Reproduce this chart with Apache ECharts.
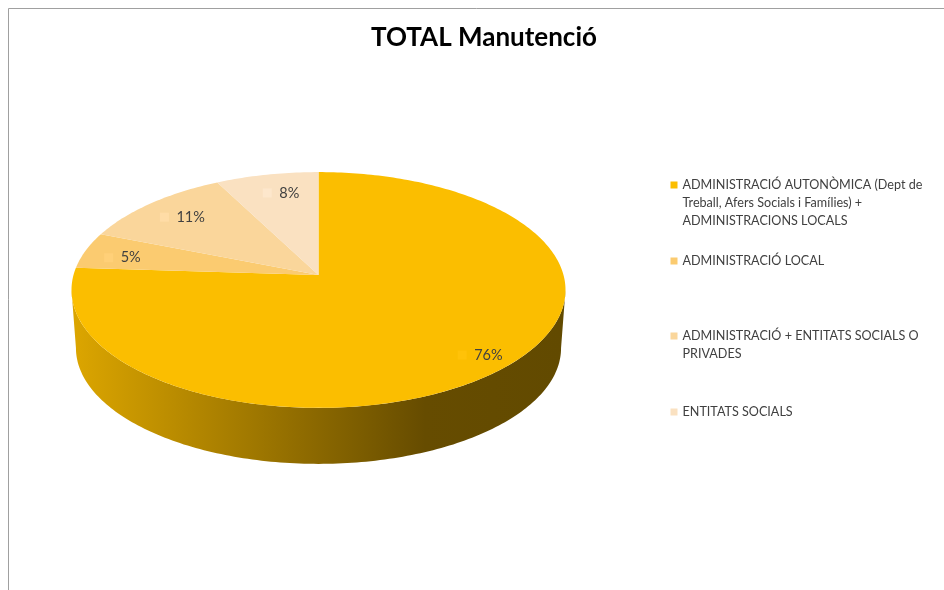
<!DOCTYPE html>
<html>
<head>
<meta charset="utf-8">
<style>html,body{margin:0;padding:0;background:#fff}#c{width:944px;height:590px}</style>
<script src="https://cdn.jsdelivr.net/npm/echarts@6/dist/echarts.min.js"></script>
</head>
<body>
<div id="c"></div>
<script>
var titleText = 'TOTAL Manutenció';
var categories = [
  'ADMINISTRACIÓ AUTONÒMICA (Dept de Treball, Afers Socials i Famílies) + ADMINISTRACIONS LOCALS',
  'ADMINISTRACIÓ LOCAL',
  'ADMINISTRACIÓ + ENTITATS SOCIALS O PRIVADES',
  'ENTITATS SOCIALS'
];
var values = [76, 5, 11.4, 7.6];

// Presentation only
var legendLines = [
  ['ADMINISTRACIÓ AUTONÒMICA (Dept de', 'Treball, Afers Socials i Famílies) +', 'ADMINISTRACIONS LOCALS'],
  ['ADMINISTRACIÓ LOCAL'],
  ['ADMINISTRACIÓ + ENTITATS SOCIALS O', 'PRIVADES'],
  ['ENTITATS SOCIALS']
];
var legendTops = [176, 252, 327, 403];
var colors = ['#FBBE00', '#FBCB70', '#FAD69B', '#FAE1C1'];
var keyColors = ['#FFC208', '#FFD078', '#FFDCA6', '#FDE7CC'];
var labelRadius = [0.86, 0.86, 0.75, 0.8];
var labelShift = [[11, 1], [11, 4], [-2, -3], [11, 0]];
var FONT = 'Lato, Carlito, "Open Sans", sans-serif';

// Perspective projection of the disc
var CX = 318.5, CY = 275, RX = 245, RY = 116, P = 0.127;
var DEPTH_SCALE = 0.982, DEPTH_DY = 58.4;
function project(turn, r, s, dy) {
  var a = turn * 2 * Math.PI, u = r * Math.sin(a), v = r * Math.cos(a), w = 1 + P * v;
  return [CX + s * RX * u / w, CY + dy - s * RY * v / w];
}
var total = values.reduce(function (a, b) { return a + b; }, 0);
var starts = values.map(function (_, i) {
  return values.slice(0, i).reduce(function (a, b) { return a + b; }, 0) / total;
});
var edgeTurn = Math.acos(-P) / (2 * Math.PI);

function arc(a, b, s, dy) {
  var pts = [], n = Math.max(2, Math.ceil(Math.abs(b - a) * 360));
  for (var k = 0; k <= n; k++) pts.push(project(a + (b - a) * k / n, 1, s, dy));
  return pts;
}

function renderSlice(params, api) {
  var i = params.seriesIndex;
  var a = starts[i], b = a + api.value(0) / total;
  var children = [];
  var sa = Math.max(a, edgeTurn), sb = Math.min(b, 1 - edgeTurn);
  if (sb > sa) {
    children.push({
      type: 'polygon', silent: true,
      shape: { points: arc(sa, sb, 1, 0).concat(arc(sb, sa, DEPTH_SCALE, DEPTH_DY)) },
      style: {
        fill: new echarts.graphic.LinearGradient(76, 0, 561, 0, [
          { offset: 0, color: '#DBA500' },
          { offset: 0.72, color: '#664C00' },
          { offset: 1, color: '#624A00' }
        ], true)
      }
    });
  }
  var pts = [project(0, 0, 1, 0)].concat(arc(a, b, 1, 0));
  children.push({
    type: 'polygon', silent: true, z2: 5,
    shape: { points: pts },
    style: { fill: colors[i] }
  });
  var mid = project((a + b) / 2, labelRadius[i], 1, 0);
  var lx = mid[0] + labelShift[i][0], ly = mid[1] + labelShift[i][1];
  var txt = Math.round(api.value(0) / total * 100) + '%';
  var half = (txt.length > 2 ? 28 : 20) / 2 + 6;
  var textX = lx - half + 8;
  children.push({
    type: 'rect', silent: true, z2: 6,
    shape: { x: textX - 16.5, y: ly - 4.5, width: 9, height: 9 },
    style: { fill: keyColors[i] }
  });
  children.push({
    type: 'text', silent: true, z2: 7,
    style: {
      x: textX, y: ly, text: txt, fill: '#404040',
      font: '14.5px ' + FONT, textAlign: 'left', textVerticalAlign: 'middle'
    }
  });
  return { type: 'group', children: children };
}

var series = categories.map(function (name, i) {
  return {
    type: 'custom', name: name, coordinateSystem: 'none',
    data: [{ name: name, value: [values[i]] }],
    itemStyle: { color: colors[i] },
    renderItem: renderSlice, animation: false, silent: true, z: i === 0 ? 2 : 3
  };
});

var legends = categories.map(function (name, i) {
  var h = legendLines[i].length * 18;
  return {
    data: [name], left: 670.5, top: legendTops[i], orient: 'vertical', padding: 0,
    selectedMode: false, itemWidth: 7, itemHeight: h,
    icon: 'path://M0 5.5L7 5.5L7 12.5L0 12.5Z M0 0L0 0Z M0 ' + h + 'L0 ' + h + 'Z',
    formatter: function () { return legendLines[i].join('\n'); },
    textStyle: { fontFamily: FONT, fontSize: 12.6, lineHeight: 18, color: '#404040' }
  };
});

var chart = echarts.init(document.getElementById('c'), null, { renderer: 'canvas' });
chart.setOption({
  animation: false,
  backgroundColor: '#fff',
  title: {
    text: titleText, left: 371, top: 25, padding: 0,
    textStyle: { fontFamily: FONT, fontSize: 26, fontWeight: 'bold', color: '#000' }
  },
  legend: legends,
  series: series,
  graphic: [
    { type: 'line', silent: true, shape: { x1: 8.5, y1: 8.5, x2: 944, y2: 8.5 }, style: { stroke: '#A0A0A0', lineWidth: 1 } },
    { type: 'line', silent: true, shape: { x1: 8.5, y1: 8.5, x2: 8.5, y2: 590 }, style: { stroke: '#A0A0A0', lineWidth: 1 } }
  ]
});
</script>
</body>
</html>
